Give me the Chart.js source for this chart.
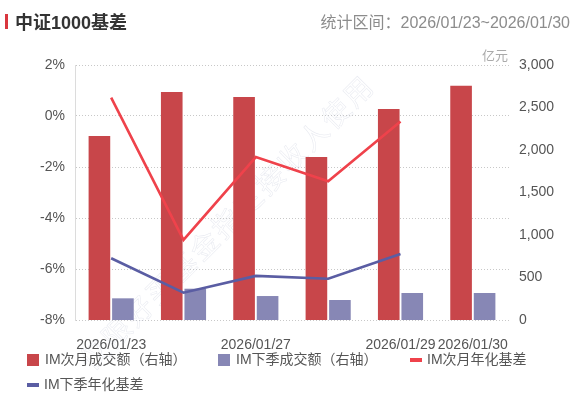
<!DOCTYPE html>
<html>
<head>
<meta charset="utf-8">
<script src="https://cdn.jsdelivr.net/npm/chart.js@4/dist/chart.umd.min.js"></script>
<style>
  html, body { margin: 0; padding: 0; background: #fff; }
  body { width: 578px; height: 396px; position: relative; overflow: hidden;
         font-family: 'Liberation Sans', 'Noto Sans CJK SC', sans-serif; }
  #wrap { position: absolute; left: 0; top: 0; width: 578px; height: 396px; }
  .title-mark { position: absolute; left: 5px; top: 14px; width: 3px; height: 15px; background: #d9363e; }
  .title { position: absolute; left: 15px; top: 11px; font-size: 18px; font-weight: bold; color: #333; line-height: 24px; }
  .range { position: absolute; right: 8px; top: 11px; font-size: 16px; color: #8c8c8c; line-height: 24px; }
  .unit { position: absolute; right: 70px; top: 47px; font-size: 13px; color: #aaa; line-height: 18px; }
  #legend { position: absolute; left: 27px; top: 351px; display: grid;
            grid-template-columns: 191px 192px auto; row-gap: 8px; }
  .lg { display: flex; align-items: center; font-size: 14px; color: #555; line-height: 17px; white-space: nowrap; }
  .lg i { display: inline-block; width: 12px; height: 12px; margin-right: 6px; }
  .lg i.line { height: 4px; margin-right: 5px; }
</style>
</head>
<body>
<div id="wrap"><canvas id="chart" width="578" height="396"></canvas></div>
<div class="title-mark"></div>
<div class="title">中证1000基差</div>
<div class="range">统计区间：2026/01/23~2026/01/30</div>
<div class="unit">亿元</div>
<div id="legend"></div>
<script>
// data
const dates = ['2026/01/23', '2026/01/26', '2026/01/27', '2026/01/28', '2026/01/29', '2026/01/30'];
const xTickLabels = ['2026/01/23', '', '2026/01/27', '', '2026/01/29', '2026/01/30'];
const imNextMonthVol = [2165, 2682, 2624, 1918, 2482, 2757];     // 亿元, right axis
const imNextQuarterVol = [255, 368, 282, 235, 318, 318];         // 亿元, right axis
const imNextMonthBasis = [0.72, -4.86, -1.61, -2.56, -0.22, null];   // %, left axis
const imNextQuarterBasis = [-5.58, -6.93, -6.27, -6.38, -5.41, null]; // %, left axis
const leftTicks = [-8, -6, -4, -2, 0, 2];
const rightTicks = [0, 500, 1000, 1500, 2000, 2500, 3000];

const watermarkText = '仅限好买基金指定接收人使用';

const tickFont = { family: "'Liberation Sans', 'Noto Sans CJK SC', sans-serif", size: 14 };

const watermark = {
  id: 'watermark',
  beforeDatasetsDraw(chart) {
    const ctx = chart.ctx;
    ctx.save();
    ctx.translate(227, 222);
    ctx.rotate(-Math.PI / 4);
    ctx.font = "28px 'Noto Sans CJK SC'";
    ctx.letterSpacing = '3px';
    ctx.textAlign = 'center';
    ctx.textBaseline = 'middle';
    ctx.strokeStyle = 'rgba(175,182,205,0.3)';
    ctx.lineWidth = 0.5;
    ctx.strokeText(watermarkText, 0, 0);
    ctx.restore();
  }
};

const chart = new Chart(document.getElementById('chart'), {
  type: 'bar',
  data: {
    labels: dates,
    datasets: [
      {
        label: 'IM次月成交额（右轴）',
        data: imNextMonthVol,
        yAxisID: 'y1',
        backgroundColor: '#c8464a',
        categoryPercentage: 0.65,
        barPercentage: 0.92,
        order: 1
      },
      {
        label: 'IM下季成交额（右轴）',
        data: imNextQuarterVol,
        yAxisID: 'y1',
        backgroundColor: '#8787b5',
        categoryPercentage: 0.65,
        barPercentage: 0.92,
        order: 1
      },
      {
        type: 'line',
        label: 'IM次月年化基差',
        data: imNextMonthBasis,
        yAxisID: 'y',
        borderColor: '#ef424b',
        backgroundColor: '#ef424b',
        borderWidth: 2.6,
        pointRadius: 0,
        tension: 0,
        order: 0
      },
      {
        type: 'line',
        label: 'IM下季年化基差',
        data: imNextQuarterBasis,
        yAxisID: 'y',
        borderColor: '#5a5da3',
        backgroundColor: '#5a5da3',
        borderWidth: 2.6,
        pointRadius: 0,
        tension: 0,
        order: 0
      }
    ]
  },
  options: {
    responsive: false,
    animation: false,
    layout: { padding: { top: 65, left: 0, right: 0, bottom: 46 } },
    plugins: {
      legend: { display: false },
      tooltip: { enabled: false }
    },
    scales: {
      x: {
        grid: { display: false },
        border: { display: false },
        ticks: {
          autoSkip: false,
          maxRotation: 0,
          padding: 9,
          color: '#555',
          font: tickFont,
          callback: (v, i) => xTickLabels[i]
        },
        afterFit: s => { s.height = 30; }
      },
      y: {
        position: 'left',
        min: leftTicks[0],
        max: leftTicks[leftTicks.length - 1],
        afterBuildTicks: s => { s.ticks = leftTicks.map(v => ({ value: v })); },
        grid: { color: '#c8c8c8', drawTicks: false, lineWidth: 1 },
        // dash applies to the grid lines (dotted), the axis line stays solid
        border: { display: true, color: '#dcdcdc', dash: [1, 2] },
        ticks: {
          padding: 10,
          color: '#555',
          font: tickFont,
          callback: v => v + '%'
        },
        afterFit: s => { s.width = 75; }
      },
      y1: {
        position: 'right',
        min: rightTicks[0],
        max: rightTicks[rightTicks.length - 1],
        afterBuildTicks: s => { s.ticks = rightTicks.map(v => ({ value: v })); },
        grid: { display: false, drawTicks: false },
        border: { display: false },
        ticks: {
          padding: 10,
          color: '#555',
          font: tickFont,
          callback: v => v.toLocaleString('en-US')
        },
        afterFit: s => { s.width = 69; }
      }
    }
  },
  plugins: [watermark]
});

// legend built from the chart's datasets
const legendEl = document.getElementById('legend');
chart.data.datasets.forEach(ds => {
  const item = document.createElement('div');
  item.className = 'lg';
  const mark = document.createElement('i');
  if (ds.type === 'line') mark.className = 'line';
  mark.style.background = ds.type === 'line' ? ds.borderColor : ds.backgroundColor;
  item.appendChild(mark);
  item.appendChild(document.createTextNode(ds.label));
  legendEl.appendChild(item);
});
</script>
</body>
</html>
